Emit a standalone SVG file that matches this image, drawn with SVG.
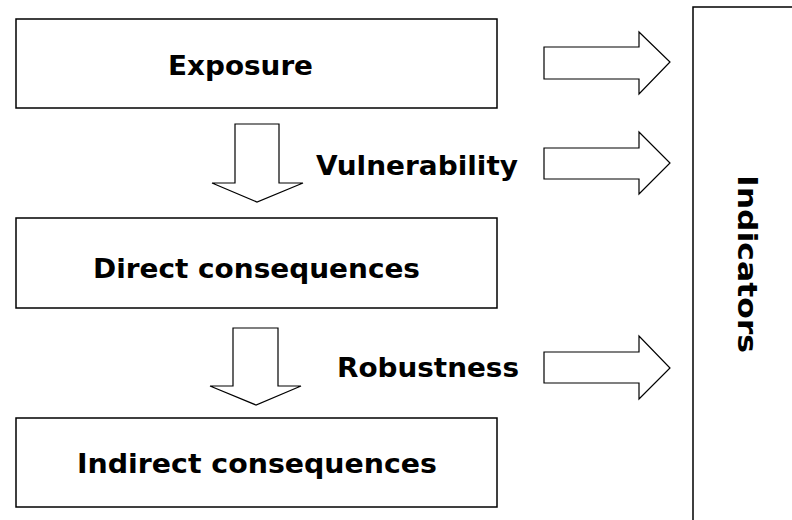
<svg xmlns="http://www.w3.org/2000/svg" width="792" height="520" viewBox="0 0 792 520">
<style>
.box{fill:#fff;stroke:#000;stroke-width:1.5}
.arr{fill:#fff;stroke:#000;stroke-width:1.2;stroke-linejoin:miter}
.t{font-family:"DejaVu Sans",Verdana,sans-serif;font-weight:bold;font-size:27px;fill:#000}
</style>
<rect width="792" height="520" fill="#fff"/>
<g id="indicators">
<rect class="box" x="693" y="7" width="110" height="520"/>
<text class="t" transform="translate(738,175) rotate(90)" textLength="178" lengthAdjust="spacingAndGlyphs">Indicators</text>
</g>
<g id="exposure">
<rect class="box" x="16" y="19" width="481" height="89"/>
<text class="t" x="168" y="75" textLength="145" lengthAdjust="spacingAndGlyphs">Exposure</text>
</g>
<g id="direct">
<rect class="box" x="16" y="218" width="481" height="90"/>
<text class="t" x="93" y="278" textLength="327" lengthAdjust="spacingAndGlyphs">Direct consequences</text>
</g>
<g id="indirect">
<rect class="box" x="16" y="418" width="481" height="89"/>
<text class="t" x="77" y="473" textLength="360" lengthAdjust="spacingAndGlyphs">Indirect consequences</text>
</g>
<g id="labels">
<text class="t" x="316" y="175" textLength="202" lengthAdjust="spacingAndGlyphs">Vulnerability</text>
<text class="t" x="337" y="377" textLength="182" lengthAdjust="spacingAndGlyphs">Robustness</text>
</g>
<g id="connectors">
<polygon class="arr" points="235,124 279,124 279,183 303,183 257,202 212,183 235,183"/>
<polygon class="arr" points="233,328 278,328 278,386 301,386 256,405 210,386 233,386"/>
<polygon class="arr" points="544,47 639,47 639,32 670,62 639,94 639,79 544,79"/>
<polygon class="arr" points="544,148 639,148 639,132 670,163 639,194 639,179 544,179"/>
<polygon class="arr" points="544,352 639,352 639,336 670,368 639,399 639,383 544,383"/>
</g>
</svg>
